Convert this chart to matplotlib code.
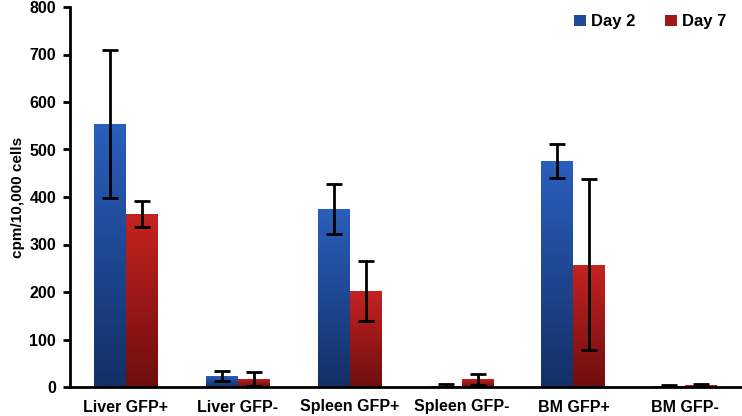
import matplotlib
matplotlib.use("Agg")
import matplotlib.pyplot as plt
import numpy as np
from matplotlib.colors import LinearSegmentedColormap

categories = ["Liver GFP+", "Liver GFP-", "Spleen GFP+", "Spleen GFP-", "BM GFP+", "BM GFP-"]
day2 = [553, 23, 375, 2, 476, 2]
day2_err = [156, 11, 53, 5, 36, 3]
day7 = [364, 17, 202, 16, 257, 4]
day7_err = [27, 15, 63, 12, 180, 3]
yticks = [0, 100, 200, 300, 400, 500, 600, 700, 800]

plt.rcParams['font.family'] = ['Liberation Sans', 'DejaVu Sans']
plt.rcParams['font.weight'] = 'bold'

fig = plt.figure(figsize=(7.42, 4.16), dpi=100)
ax = fig.add_axes([70/742, 29/416, 1 - 70/742 - 0.001, 380/416])

x = np.arange(len(categories))
w = 0.286
b1 = ax.bar(x - w/2, day2, w, color="#1f4a9a", label="Day 2", zorder=2)
b2 = ax.bar(x + w/2, day7, w, color="#a01818", label="Day 7", zorder=2)

cm_blue = LinearSegmentedColormap.from_list("b", ["#132f66", "#2a5fbd"])
cm_red = LinearSegmentedColormap.from_list("r", ["#6e0e0e", "#c52320"])
grad = np.linspace(0, 1, 256).reshape(-1, 1)
for bars, cm in ((b1, cm_blue), (b2, cm_red)):
    for p in bars:
        x0, y0 = p.get_x(), p.get_y()
        ww, hh = p.get_width(), p.get_height()
        if hh <= 0:
            continue
        im = ax.imshow(grad, cmap=cm, aspect="auto", origin="lower",
                       extent=[x0, x0 + ww, y0, y0 + hh], zorder=2.5,
                       interpolation="bilinear")
        im.set_clip_path(p)

ax.errorbar(x - w/2, day2, yerr=day2_err, fmt="none", ecolor="black",
            elinewidth=2, capsize=6, capthick=2, zorder=3)
ax.errorbar(x + w/2, day7, yerr=day7_err, fmt="none", ecolor="black",
            elinewidth=2, capsize=6, capthick=2, zorder=3)

ax.set_xlim(-0.5, len(categories) - 0.5)
ax.set_ylim(0, 800)
ax.set_yticks(yticks)
ax.set_yticklabels([str(v) for v in yticks], fontsize=11.5, fontweight="bold")
ax.set_xticks(x)
ax.set_xticklabels(categories, fontsize=11.5, fontweight="bold")
ax.tick_params(axis="x", length=0, pad=9)
ax.tick_params(axis="y", length=5, width=2, direction="out", pad=5)
for s in ("top", "right"):
    ax.spines[s].set_visible(False)
for s in ("left", "bottom"):
    ax.spines[s].set_linewidth(2)
ax.set_ylabel("cpm/10,000 cells", fontsize=11, fontweight="bold", labelpad=3)

leg = ax.legend(loc="upper right", bbox_to_anchor=(1.0, 1.02), ncol=2, frameon=False,
                prop={"weight": "bold", "size": 12}, handlelength=0.7, handleheight=0.7,
                handletextpad=0.3, columnspacing=1.8)

fig.savefig("out.png", dpi=100)
